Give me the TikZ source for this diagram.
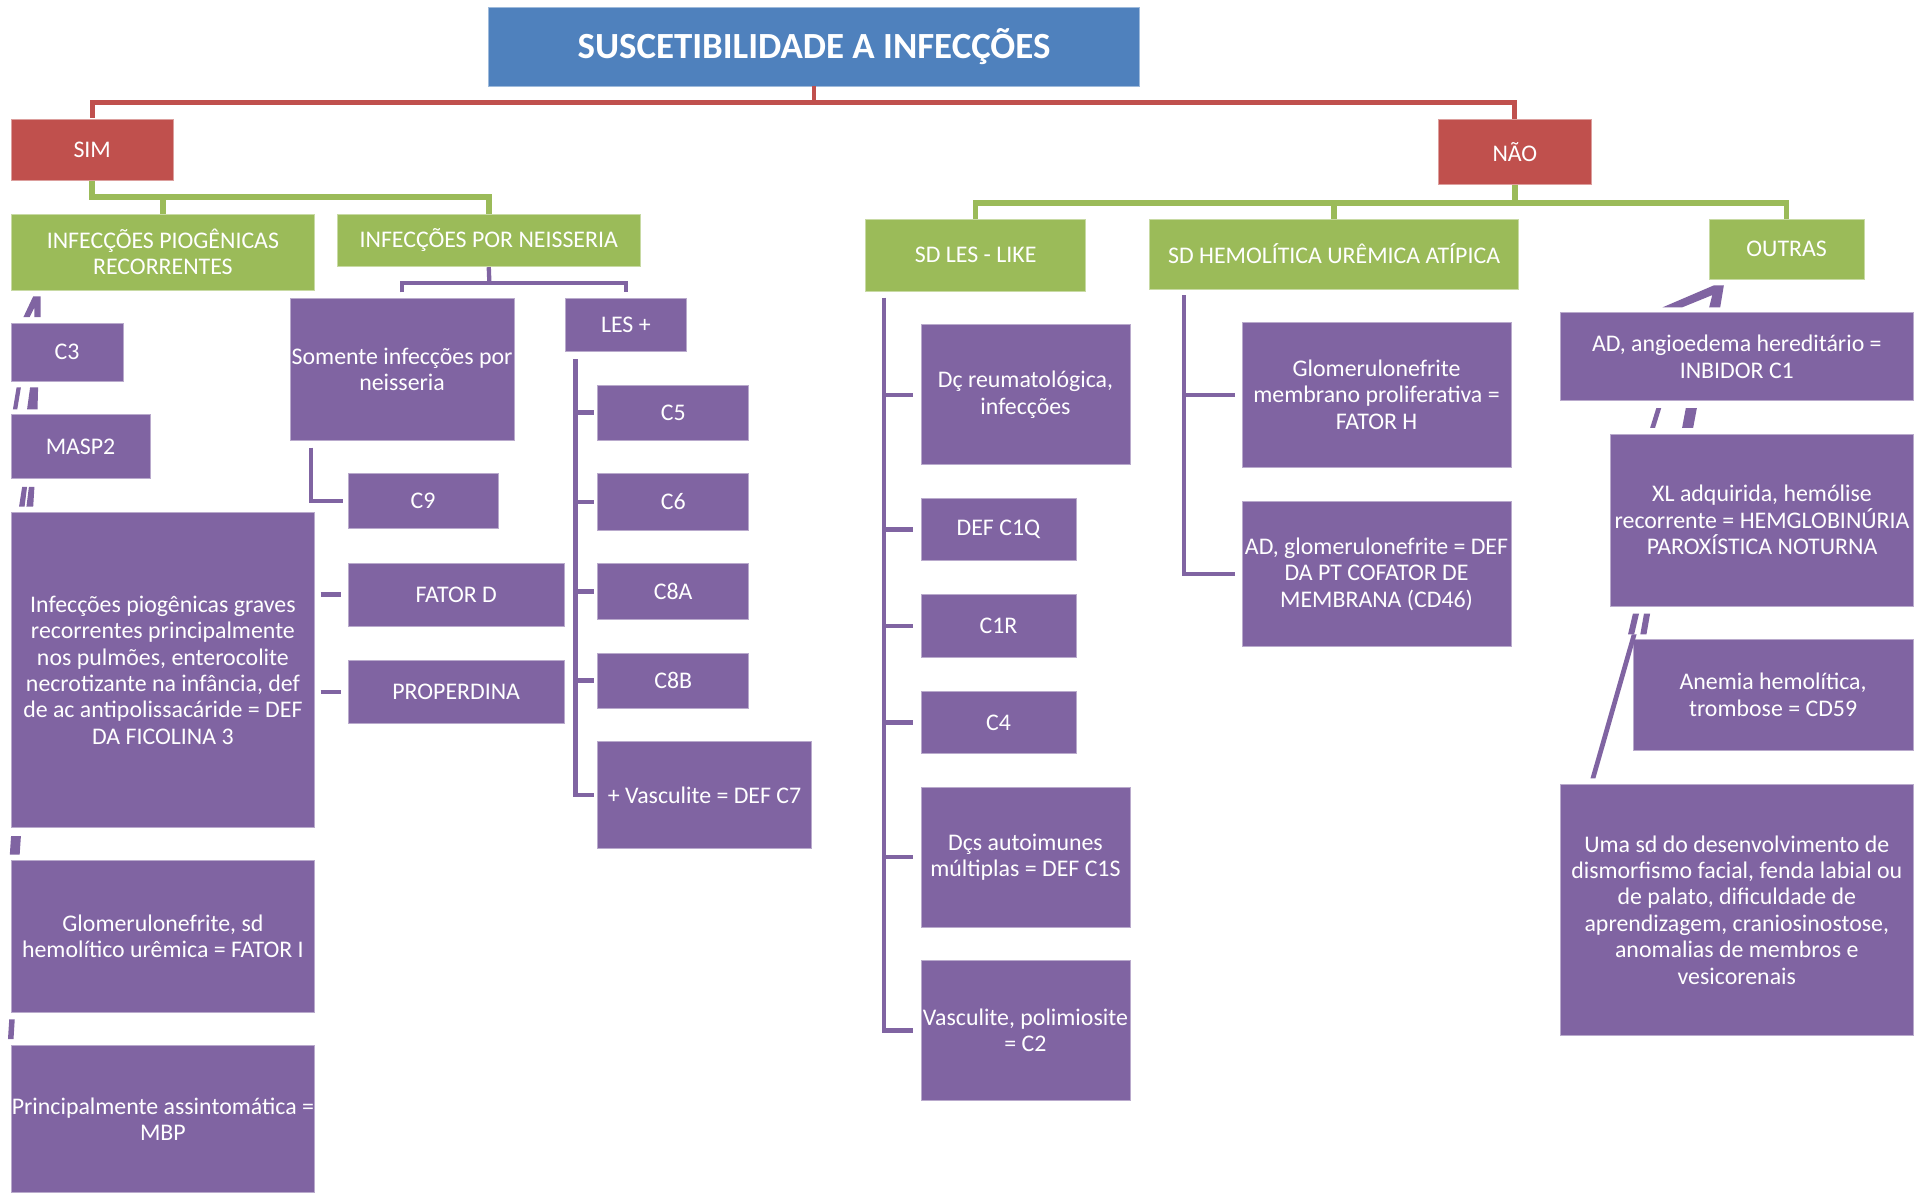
\documentclass[tikz,border=0pt]{standalone}
\usepackage{fontspec}
\setmainfont{Carlito}
\definecolor{pcol}{HTML}{8064A2}
\definecolor{gcol}{HTML}{9BBB59}
\definecolor{rcol}{HTML}{C0504D}
\definecolor{bcol}{HTML}{4F81BD}
\tikzset{
  base/.style={rectangle, inner sep=0pt, text=white, align=center,
    font=\fontsize{19.4}{21.5}\selectfont},
  pbox/.style={base, fill=pcol, draw=pcol!55!white, line width=0.6pt},
  gbox/.style={base, fill=gcol, draw=gcol!55!white, line width=0.6pt},
  rbox/.style={base, fill=rcol, draw=rcol!55!white, line width=0.6pt},
  tbox/.style={base, fill=bcol, draw=bcol!55!white, line width=0.6pt,
    font=\fontsize{30}{34}\selectfont\bfseries},
  redl/.style={draw=rcol, line width=4pt},
  greenl/.style={draw=gcol, line width=4.5pt},
  purl/.style={draw=pcol, line width=3.5pt},
  sz/.style 2 args={minimum width=#1pt, minimum height=#2pt},
}
\begin{document}
\begin{tikzpicture}[x=1pt,y=1pt]
\useasboundingbox (0,0) rectangle (1568,-970);
% ---- top level
\node[tbox, sz={530}{64}] (title) at (662,-38) {SUSCETIBILIDADE A INFECÇÕES};
\node[rbox, sz={132}{50}] (sim) at (75,-122) {SIM};
\node[rbox, sz={124}{53}] (nao) at (1232,-123.5) {NÃO};
% ---- SIM side
\node[gbox, sz={247}{62}] (piog) at (132.5,-205) {INFECÇÕES PIOGÊNICAS\\RECORRENTES};
\node[gbox, sz={247}{43}] (neis) at (397.5,-195.5) {INFECÇÕES POR NEISSERIA};
\node[pbox, sz={182}{115}] (som) at (327,-300.5) {Somente infecções por\\neisseria};
\node[pbox, sz={98}{43}] (les) at (509,-264.5) {LES +};
\node[pbox, sz={122}{45}] (c9) at (344,-407.5) {C9};
\node[pbox, sz={176}{51}] (fd) at (371,-483.5) {FATOR D};
\node[pbox, sz={176}{51}] (prop) at (371,-562.5) {PROPERDINA};
\node[pbox, sz={123}{45}] (c5) at (547.5,-335.5) {C5};
\node[pbox, sz={123}{46}] (c6) at (547.5,-408) {C6};
\node[pbox, sz={123}{46}] (c8a) at (547.5,-481) {C8A};
\node[pbox, sz={123}{45}] (c8b) at (547.5,-553.5) {C8B};
\node[pbox, sz={174}{87}] (c7) at (573,-646.5) {+ Vasculite = DEF C7};
\node[pbox, sz={91}{47}] (c3) at (54.5,-286.5) {C3};
\node[pbox, sz={113}{52}] (masp) at (65.5,-363) {MASP2};
\node[pbox, sz={247}{256}] (fic) at (132.5,-545) {Infecções piogênicas graves\\recorrentes principalmente\\nos pulmões, enterocolite\\necrotizante na infância, def\\de ac antipolissacáride = DEF\\DA FICOLINA 3};
\node[pbox, sz={247}{123}] (fi) at (132.5,-761.5) {Glomerulonefrite, sd\\hemolítico urêmica = FATOR I};
\node[pbox, sz={247}{120}] (mbp) at (132.5,-910) {Principalmente assintomática =\\MBP};
% ---- NAO side
\node[gbox, sz={179}{59}] (sdles) at (793.5,-207.5) {SD LES - LIKE};
\node[gbox, sz={300}{57}] (shu) at (1085,-206.5) {SD HEMOLÍTICA URÊMICA ATÍPICA};
\node[gbox, sz={126}{49}] (outras) at (1453,-202.5) {OUTRAS};
\node[pbox, sz={170}{114}] (dcr) at (834,-321) {Dç reumatológica,\\infecções};
\node[pbox, sz={126}{51}] (c1q) at (812,-430.5) {DEF C1Q};
\node[pbox, sz={126}{52}] (c1r) at (812,-509) {C1R};
\node[pbox, sz={126}{51}] (c4) at (812,-587.5) {C4};
\node[pbox, sz={170}{114}] (c1s) at (834,-697) {Dçs autoimunes\\múltiplas = DEF C1S};
\node[pbox, sz={170}{114}] (c2) at (834,-838) {Vasculite, polimiosite\\= C2};
\node[pbox, sz={219}{118}] (fh) at (1119.5,-321) {Glomerulonefrite\\membrano proliferativa =\\FATOR H};
\node[pbox, sz={219}{118}] (cd46) at (1119.5,-467) {AD, glomerulonefrite = DEF\\DA PT COFATOR DE\\MEMBRANA (CD46)};
\node[pbox, sz={287}{72}] (c1inh) at (1412.5,-290) {AD, angioedema hereditário =\\INBIDOR C1};
\node[pbox, sz={246}{140}] (pnh) at (1433,-423) {XL adquirida, hemólise\\recorrente = HEMGLOBINÚRIA\\PAROXÍSTICA NOTURNA};
\node[pbox, sz={228}{90}] (cd59) at (1442,-565) {Anemia hemolítica,\\trombose = CD59};
\node[pbox, sz={287}{204}] (uma) at (1412.5,-740) {Uma sd do desenvolvimento de\\dismorfismo facial, fenda labial ou\\de palato, dificuldade de\\aprendizagem, craniosinostose,\\anomalias de membros e\\vesicorenais};
% ---- connectors: red
\coordinate (rj) at (662,-83);
\draw[redl] (title.south) -- (rj);
\draw[redl, shorten <=1pt] (sim.north) |- (rj) -| (nao.north);
% ---- green under SIM
\coordinate (gj) at (75,-160);
\draw[greenl] (sim.south) -- (gj) -| (neis.north);
\draw[greenl] (piog.north) -- (piog.north |- gj);
% ---- green under NAO
\coordinate (nj) at (1232,-165);
\draw[greenl] (nao.south) -- (nj);
\draw[greenl] (sdles.north) |- (nj) -| (outras.north);
\draw[greenl] (shu.north) -- (shu.north |- nj);
% ---- purple under NEISSERIA
\coordinate (pj) at (398,-230);
\draw[purl] (neis.south) -- (pj);
\draw[purl, shorten <=5pt] (som.north) |- (pj) -| ([yshift=5pt]les.north);
% ---- Somente -> C9, stubs
\coordinate (sv) at (253,-364);
\draw[purl, shorten >=4pt] (sv) |- (c9.west);
\draw[purl, shorten >=5pt] ([xshift=-22pt]fd.west) -- (fd.west);
\draw[purl, shorten >=5pt] ([xshift=-22pt]prop.west) -- (prop.west);
% ---- LES + branch
\coordinate (lv) at (468,-292);
\draw[purl, shorten >=3pt] (lv) |- (c7.west);
\foreach \n in {c5,c6,c8a,c8b}{\draw[purl, shorten >=3pt] (lv |- \n.west) -- (\n.west);}
% ---- SD LES branch
\coordinate (sl) at (719,-242);
\draw[purl, shorten >=6pt] (sl) |- (c2.west);
\foreach \n in {dcr,c1q,c1r,c4,c1s}{\draw[purl, shorten >=6pt] (sl |- \n.west) -- (\n.west);}
% ---- SHU branch
\coordinate (hv) at (963,-240);
\draw[purl, shorten >=5pt] (hv) |- (cd46.west);
\draw[purl, shorten >=5pt] (hv |- fh.west) -- (fh.west);
% ---- broken connector fragments (left column)
\fill[pcol] (19,-258) -- (27,-241) -- (33,-241) -- (33,-258) -- (28,-258) -- (28,-250) -- (24,-258) -- cycle;
\fill[pcol] (10.5,-333) -- (13.5,-315) -- (17,-315) -- (14,-333) -- cycle;
\fill[pcol] (22,-333) -- (24.5,-315) -- (31,-315) -- (30.5,-333) -- cycle;
\fill[pcol] (15.5,-412) -- (18,-396) -- (22,-396) -- (20,-412) -- cycle;
\fill[pcol] (21.5,-412) -- (23.5,-396) -- (28,-396) -- (27,-412) -- cycle;
\fill[pcol] (8,-695) -- (9,-680) -- (17,-680) -- (16,-695) -- cycle;
\fill[pcol] (6.5,-845) -- (7.5,-829) -- (12,-829) -- (11,-845) -- cycle;
% ---- broken connector fragments (right column)
\fill[pcol] (1352,-250) -- (1394,-232) -- (1402,-232) -- (1399,-250) -- (1390,-250) -- (1392.5,-240) -- (1368,-250) -- cycle;
\fill[pcol] (1342,-348) -- (1347,-332) -- (1351,-332) -- (1346,-348) -- cycle;
\fill[pcol] (1368,-348) -- (1371,-332) -- (1380,-332) -- (1377,-348) -- cycle;
\fill[pcol] (1324,-516) -- (1328,-499) -- (1333,-499) -- (1329,-516) -- cycle;
\fill[pcol] (1334,-516) -- (1337,-499) -- (1342,-499) -- (1339,-516) -- cycle;
\fill[pcol] (1327,-516) -- (1331,-516) -- (1297.5,-633) -- (1293.5,-633) -- cycle;
\end{tikzpicture}
\end{document}
